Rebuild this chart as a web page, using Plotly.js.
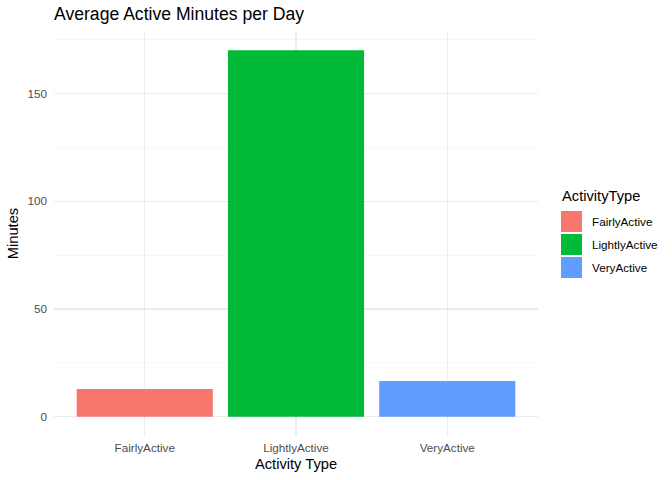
<!DOCTYPE html>
<html>
<head>
<meta charset="utf-8">
<script src="https://cdn.plot.ly/plotly-3.0.1.min.js"></script>
<style>html,body{margin:0;padding:0;background:#fff;}#chart{width:672px;height:480px;}</style>
</head>
<body>
<div id="chart"></div>
<script>
var categories = ["FairlyActive", "LightlyActive", "VeryActive"];
var minutes = [12.9, 170.1, 16.6];
var colors = ["#F8766D", "#00BA38", "#619CFF"];
var yTicks = [0, 50, 100, 150];
var legendTitle = "ActivityType";

var W = 672, H = 480;
var M = {l: 54, r: 134, t: 32, b: 45};
var pw = W - M.l - M.r, ph = H - M.t - M.b;
function px(x) { return (x - M.l) / pw; }
function py(y) { return (H - M.b - y) / ph; }

var font = "Liberation Sans, Arial, Helvetica, sans-serif";
var ymax = Math.max.apply(null, minutes);

var trace = {
  type: "bar",
  x: categories,
  y: minutes,
  width: 0.9,
  marker: {color: colors, line: {width: 0}},
  hoverinfo: "x+y",
  showlegend: false
};

var shapes = [], annotations = [];
var keyTop = [211, 234, 257];
categories.forEach(function (c, i) {
  shapes.push({
    type: "rect", xref: "paper", yref: "paper",
    x0: px(561), x1: px(582), y0: py(keyTop[i]), y1: py(keyTop[i] + 21),
    fillcolor: colors[i], line: {width: 0}
  });
  annotations.push({
    xref: "paper", yref: "paper", x: px(590), y: py(keyTop[i] + 10.5),
    xanchor: "left", yanchor: "middle", showarrow: false,
    text: c, font: {family: font, size: 11.7, color: "#000000"}
  });
});
annotations.push({
  xref: "paper", yref: "paper", x: px(560), y: py(196),
  xanchor: "left", yanchor: "middle", showarrow: false,
  text: legendTitle, font: {family: font, size: 14.7, color: "#000000"}
});

var layout = {
  width: W, height: H,
  margin: M,
  paper_bgcolor: "#ffffff",
  plot_bgcolor: "#ffffff",
  font: {family: font},
  title: {
    text: "Average Active Minutes per Day",
    x: 0, xref: "paper", xanchor: "left",
    y: 1 - 14 / H, yref: "container", yanchor: "middle",
    font: {family: font, size: 17.6, color: "#000000"}
  },
  xaxis: {
    type: "category",
    range: [-0.6, categories.length - 0.4],
    showgrid: true, gridcolor: "#EBEBEB", gridwidth: 1.1,
    showline: false, zeroline: false,
    ticks: "", ticklabelstandoff: 4,
    tickfont: {family: font, size: 11.7, color: "#4D4D4D"},
    title: {text: "Activity Type", standoff: 6, font: {family: font, size: 14.7, color: "#000000"}}
  },
  yaxis: {
    range: [-ymax * 0.05, ymax * 1.05],
    tickvals: yTicks,
    showgrid: true, gridcolor: "#EBEBEB", gridwidth: 1.1,
    minor: {dtick: 25, tick0: 25, showgrid: true, gridcolor: "#F2F2F2", gridwidth: 0.6, ticks: ""},
    showline: false, zeroline: false,
    ticks: "", ticklabelstandoff: 6,
    tickfont: {family: font, size: 11.7, color: "#4D4D4D"},
    title: {text: "Minutes", standoff: 5, font: {family: font, size: 14.7, color: "#000000"}}
  },
  shapes: shapes,
  annotations: annotations,
  bargap: 0.1
};

Plotly.newPlot("chart", [trace], layout, {displayModeBar: false, staticPlot: true});
</script>
</body>
</html>
